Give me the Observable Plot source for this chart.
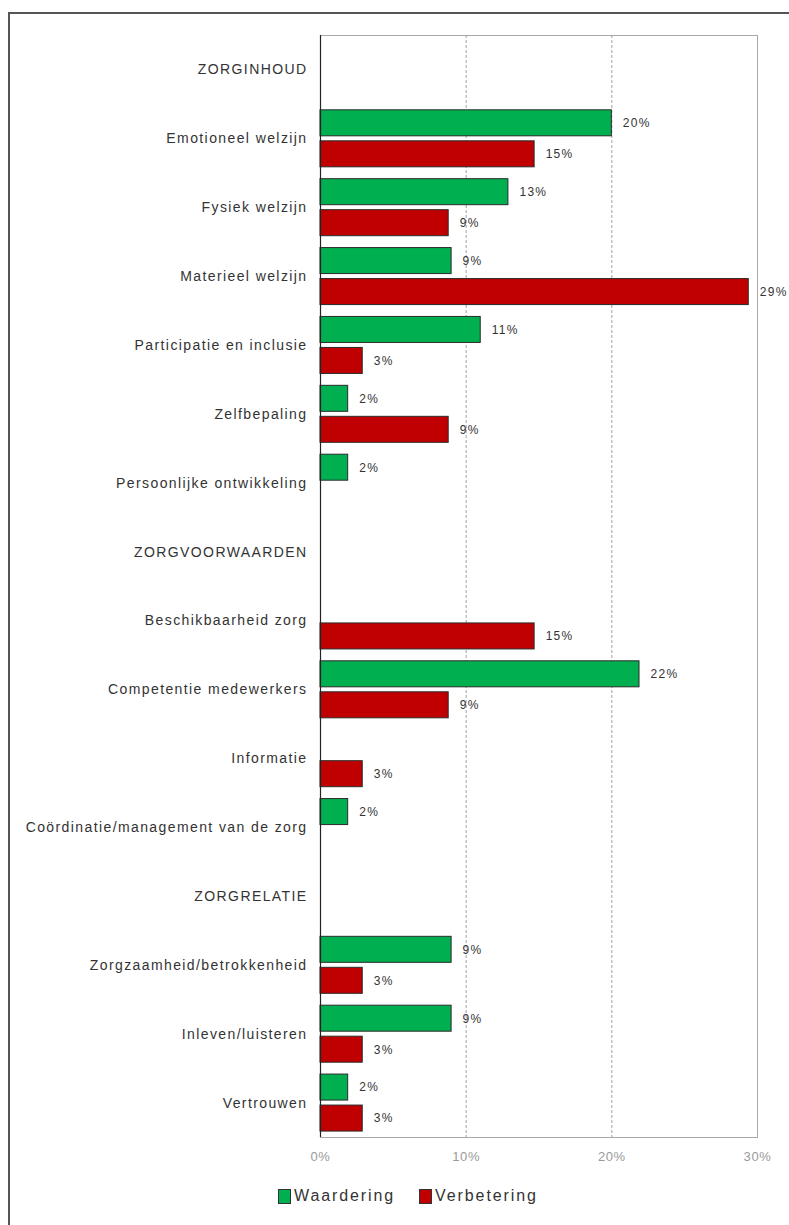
<!DOCTYPE html>
<html>
<head>
<meta charset="utf-8">
<script src="https://cdn.jsdelivr.net/npm/d3@7"></script>
<script src="https://cdn.jsdelivr.net/npm/@observablehq/plot@0.6"></script>
<style>
  html, body { margin: 0; padding: 0; background: #fff; }
  #page { position: relative; width: 789px; height: 1225px; overflow: hidden; font-family: "Liberation Sans", Arial, sans-serif; }
  #outer { position: absolute; left: 8px; top: 12px; width: 900px; height: 1400px; border-left: 2px solid #555; border-top: 2px solid #555; }
  #chart { position: absolute; left: 0; top: 0; }
  #chart svg g[aria-label="y-axis tick label"] text { font-size: 14px; fill: #333; letter-spacing: 1.4px; }
  #chart svg g[aria-label="x-axis tick label"] text { font-size: 13px; fill: #9a9a9a; letter-spacing: 0.6px; }
  #legend { position: absolute; left: 278px; top: 1187px; display: flex; align-items: center; font-size: 16px; letter-spacing: 1.9px; color: #333; }
  .sw { display: inline-block; width: 11px; height: 13px; border: 1px solid #333; margin-right: 3px; }
  .item { display: flex; align-items: center; margin-right: 24px; }
</style>
</head>
<body>
<div id="page">
  <div id="outer"></div>
  <div id="chart"></div>
  <div id="legend"></div>
</div>
<script>
const rows = [
  "ZORGINHOUD",
  "Emotioneel welzijn",
  "Fysiek welzijn",
  "Materieel welzijn",
  "Participatie en inclusie",
  "Zelfbepaling",
  "Persoonlijke ontwikkeling",
  "ZORGVOORWAARDEN",
  "Beschikbaarheid zorg",
  "Competentie medewerkers",
  "Informatie",
  "Coördinatie/management van de zorg",
  "ZORGRELATIE",
  "Zorgzaamheid/betrokkenheid",
  "Inleven/luisteren",
  "Vertrouwen"
];
const waardering  = [null, 20, 12.9, 9.0, 11.0, 1.9, 1.9, null, null, 21.9, null, 1.9, null, 9.0, 9.0, 1.9];
const verbetering = [null, 14.7, 8.8, 29.4, 2.9, 8.8, null, null, 14.7, 8.8, 2.9, null, null, 2.9, 2.9, 2.9];
const series = ["Waardering", "Verbetering"];
const colors = ["#00b050", "#c00000"];
const xTicks = [0, 10, 20, 30];

const W = 789, H = 1175, mTop = 35, mBottom = 38;
const step = (H - mTop - mBottom) / rows.length;
const barH = 26;
const inset = (step - barH) / 2;
const off = 15.5;

const dataW = rows.map((r, i) => ({row: r, value: waardering[i]})).filter(d => d.value != null);
const dataV = rows.map((r, i) => ({row: r, value: verbetering[i]})).filter(d => d.value != null);
const fmt = v => Math.round(v) + "%";

const chart = Plot.plot({
  width: W,
  height: H,
  marginLeft: 320,
  marginRight: 32,
  marginTop: mTop,
  marginBottom: mBottom,
  style: {fontFamily: "Liberation Sans, Arial, sans-serif", background: "transparent"},
  x: {domain: [0, 30], ticks: xTicks, tickFormat: d => d + "%", tickSize: 0, tickPadding: 14, label: null},
  y: {domain: rows, padding: 0, round: false, tickSize: 0, tickPadding: 13, label: null},
  marks: [
    Plot.frame({stroke: "#a8a8a8"}),
    Plot.ruleX([10, 20], {stroke: "#8a8a8a", strokeDasharray: "3,2", strokeWidth: 0.8}),
    Plot.barX(dataW, {x: "value", y: "row", fill: colors[0], stroke: "#2a2a2a", strokeWidth: 1, insetTop: inset, insetBottom: inset, dy: -off}),
    Plot.barX(dataV, {x: "value", y: "row", fill: colors[1], stroke: "#2a2a2a", strokeWidth: 1, insetTop: inset, insetBottom: inset, dy: off}),
    Plot.text(dataW, {x: "value", y: "row", text: d => fmt(d.value), dx: 11, dy: -off, textAnchor: "start", fontSize: 12, fill: "#333"}),
    Plot.text(dataV, {x: "value", y: "row", text: d => fmt(d.value), dx: 11, dy: off, textAnchor: "start", fontSize: 12, fill: "#333"}),
    Plot.ruleX([0], {stroke: "#222", strokeWidth: 1.2})
  ]
});
document.getElementById("chart").appendChild(chart);
chart.querySelectorAll('g[aria-label="text"] text').forEach(t => t.style.letterSpacing = "1.3px");

const legend = document.getElementById("legend");
series.forEach((s, i) => {
  const item = document.createElement("span");
  item.className = "item";
  const sw = document.createElement("span");
  sw.className = "sw";
  sw.style.background = colors[i];
  item.appendChild(sw);
  item.appendChild(document.createTextNode(s));
  legend.appendChild(item);
});
</script>
</body>
</html>
